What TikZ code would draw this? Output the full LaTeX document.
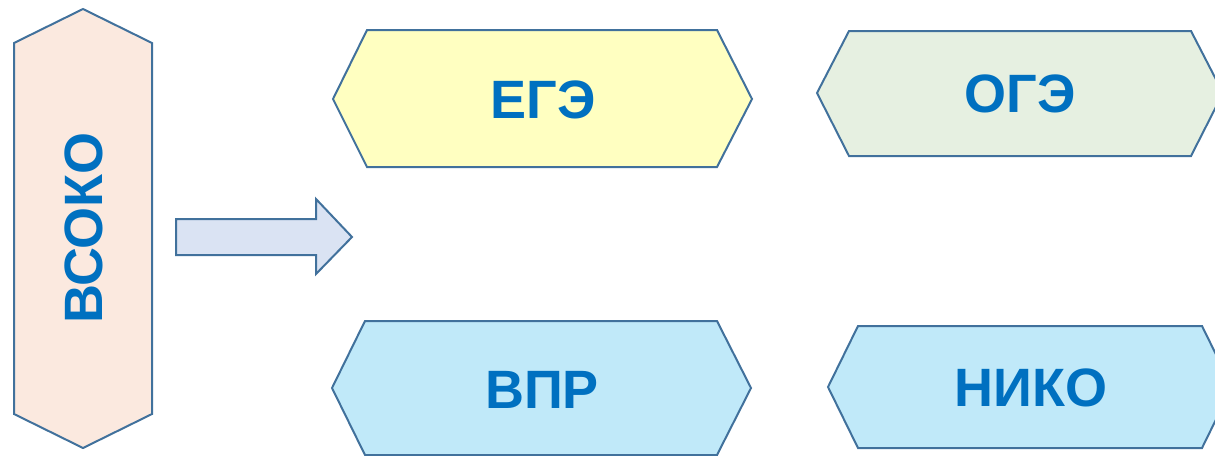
\documentclass[tikz,border=0pt]{standalone}
\usepackage{fontspec}
\setmainfont{Liberation Sans}
\definecolor{edge}{HTML}{41719C}
\definecolor{txt}{HTML}{0070C0}
\definecolor{fpeach}{HTML}{FBE9DF}
\definecolor{farrow}{HTML}{DAE3F3}
\definecolor{fyellow}{HTML}{FFFFC1}
\definecolor{fgreen}{HTML}{E6F0E1}
\definecolor{fcyan}{HTML}{C0E9F9}
\begin{document}
\begin{tikzpicture}[x=1pt,y=-1pt,
  shapeline/.style={draw=edge,line width=2pt,line join=miter},
  label/.style={text=txt,font=\fontsize{54}{60}\selectfont\bfseries,inner sep=0pt}]
\useasboundingbox (0,0) rectangle (1215,455);
\clip (0,0) rectangle (1215,455);
% VSOKO vertical hexagon
\draw[shapeline,fill=fpeach] (83,9) -- (152,43) -- (152,414) -- (83,448) -- (14,414) -- (14,43) -- cycle;
\node[label,rotate=90] (vsoko) at (84,228) {ВСОКО};
% block arrow
\draw[shapeline,fill=farrow] (176,219) -- (316,219) -- (316,199) -- (352,237) -- (316,274) -- (316,255) -- (176,255) -- cycle;
% EGE
\draw[shapeline,fill=fyellow] (333,99) -- (367,30) -- (717,30) -- (752,99) -- (717,167) -- (367,167) -- cycle;
\node[label] (ege) at (543,100) {ЕГЭ};
% OGE
\draw[shapeline,fill=fgreen] (817,93) -- (849,31) -- (1191,31) -- (1223,93) -- (1191,156) -- (849,156) -- cycle;
\node[label] (oge) at (1020,94) {ОГЭ};
% VPR
\draw[shapeline,fill=fcyan] (332,388) -- (365,321) -- (717,321) -- (751,388) -- (717,455) -- (365,455) -- cycle;
\node[label] (vpr) at (542,390) {ВПР};
% NIKO
\draw[shapeline,fill=fcyan] (828,387) -- (858,326) -- (1202,326) -- (1232,387) -- (1202,448) -- (858,448) -- cycle;
\node[label] (niko) at (1031,388) {НИКО};
\end{tikzpicture}
\end{document}
